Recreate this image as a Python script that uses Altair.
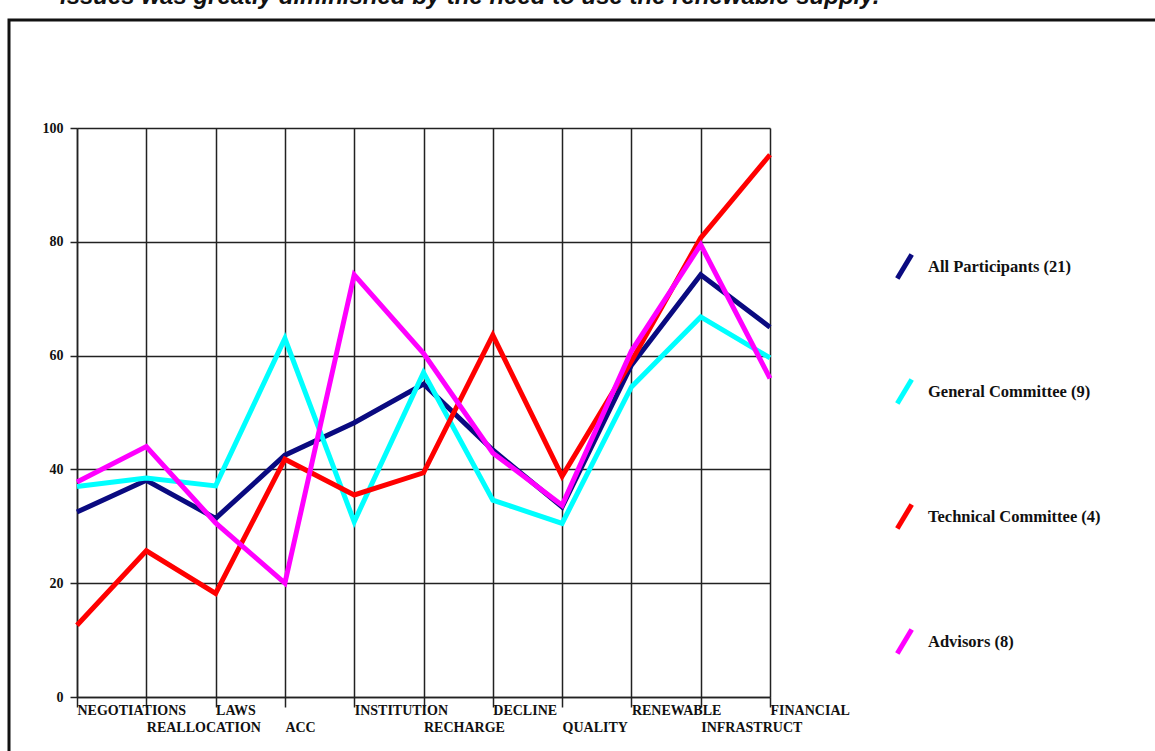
import altair as alt
import pandas as pd

categories = ["NEGOTIATIONS", "REALLOCATION", "LAWS", "ACC", "INSTITUTION",
              "RECHARGE", "DECLINE", "QUALITY", "RENEWABLE", "INFRASTRUCT", "FINANCIAL"]
series = ["All Participants (21)", "General Committee (9)",
          "Technical Committee (4)", "Advisors (8)"]
all_participants = [32.5, 38.1, 31.4, 42.5, 48.2, 55.0, 43.4, 33.4, 58.3, 74.2, 65.0]
general_committee = [37.0, 38.5, 37.1, 63.0, 30.8, 57.0, 34.6, 30.5, 54.5, 66.8, 59.6]
technical_committee = [12.6, 25.7, 18.2, 41.8, 35.5, 39.4, 63.6, 38.8, 59.0, 80.7, 95.3]
advisors = [37.8, 44.0, 30.6, 20.0, 74.2, 60.4, 42.9, 33.7, 60.8, 79.5, 56.0]
colors = ["#0a0a80", "#00ffff", "#ff0000", "#ff00ff"]
caption = "issues was greatly diminished by the need to use the renewable supply."

values = [all_participants, general_committee, technical_committee, advisors]
rows = []
for s, vals in zip(series, values):
    for c, v in zip(categories, vals):
        rows.append({"cat": c, "series": s, "value": v})
df = pd.DataFrame(rows)

row2 = categories[1::2]
row2_list = "[" + ",".join("'" + c + "'" for c in row2) + "]"
label_expr = f"indexof({row2_list}, datum.value) >= 0 ? ['', datum.label] : datum.label"

W, H = 693, 569
PL, PT, PR, PB = 77, 128, 1155 - 77 - 693, 751 - 128 - 569

lines = alt.Chart(df).mark_line(strokeWidth=5, strokeJoin="miter").encode(
    x=alt.X("cat:N", sort=categories, title=None,
            scale=alt.Scale(type="point", padding=0),
            axis=alt.Axis(labelAngle=0, labelAlign="left", labelBaseline="top",
                          labelExpr=label_expr, labelLineHeight=17,
                          labelFont="Liberation Serif", labelFontWeight="bold",
                          labelFontSize=14, labelColor="#111",
                          labelPadding=-4, tickSize=10, tickColor="#222",
                          tickWidth=1.5, domainColor="#222", domainWidth=1.5,
                          grid=True, gridColor="#222", gridWidth=1.5, gridOpacity=1,
                          labelOverlap=False, labelBound=False)),
    y=alt.Y("value:Q", title=None,
            scale=alt.Scale(domain=[0, 100], nice=False, zero=True),
            axis=alt.Axis(values=[0, 20, 40, 60, 80, 100], labelFont="Liberation Serif",
                          labelFontWeight="bold", labelFontSize=14, labelColor="#111",
                          labelPadding=7, tickSize=7, tickColor="#222", tickWidth=1.5,
                          domainColor="#222", domainWidth=1.5,
                          grid=True, gridColor="#222", gridWidth=1.5, gridOpacity=1)),
    color=alt.Color("series:N", sort=series,
                    scale=alt.Scale(domain=series, range=colors),
                    legend=alt.Legend(title=None, orient="none", legendX=813, legendY=124,
                                      symbolType="M-0.6,1L0.6,-1", symbolSize=576,
                                      symbolStrokeWidth=5, rowPadding=80,
                                      labelOffset=9, labelFont="Liberation Serif",
                                      labelFontWeight="bold", labelFontSize=16.5,
                                      labelColor="#111", labelLimit=300)),
)

frame = alt.Chart(pd.DataFrame({"f": [1]})).mark_rect(
    fill=None, stroke="#111", strokeWidth=3
).encode(
    x=alt.value(-PL + 9), y=alt.value(-PT + 20),
    x2=alt.value(W + PR + 10), y2=alt.value(H + PB + 10)
)

top_text = alt.Chart(pd.DataFrame({"t": [caption]})).mark_text(
    align="left", baseline="alphabetic", font="Liberation Sans",
    fontWeight="bold", fontStyle="italic", fontSize=24, color="#111"
).encode(text="t:N", x=alt.value(60 - PL), y=alt.value(4 - PT))

chart = alt.layer(lines, frame, top_text).properties(
    width=W, height=H,
    autosize=alt.AutoSizeParams(type="none"),
    padding={"left": PL, "top": PT, "right": PR, "bottom": PB},
    background="white",
).configure_view(stroke=None)

chart.save("out.html", embed_options={"renderer": "svg", "actions": False})
